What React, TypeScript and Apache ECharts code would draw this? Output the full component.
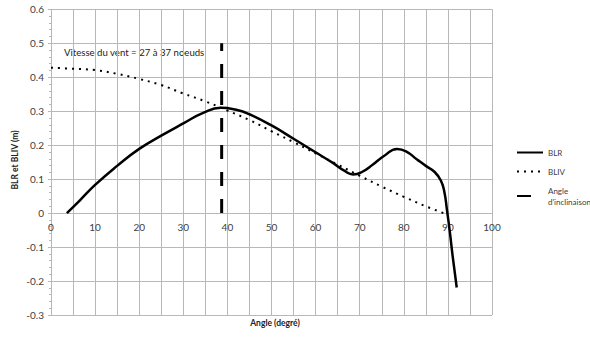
import React, { useEffect, useRef } from "react";
import * as echarts from "echarts";

const blrData: [number, number][] = [
  [3.6, 0], [6.5, 0.037], [10, 0.083], [15, 0.139],
  [20, 0.189], [25, 0.228], [30, 0.264], [34.5, 0.295],
  [38.5, 0.31], [42, 0.304], [45, 0.291], [50, 0.258], [55, 0.219],
  [60, 0.179], [64, 0.147], [66.5, 0.125], [68.5, 0.114], [70.5, 0.121],
  [73, 0.143], [75.5, 0.168], [78.5, 0.189], [80.5, 0.182], [83, 0.158],
  [85, 0.139], [87, 0.121], [88.4, 0.096], [89.2, 0.062], [89.8, 0.008],
  [90.4, -0.051], [91.1, -0.129], [92, -0.219],
];

const bliv: [number, number][] = [
  [0, 0.428], [5, 0.425], [10, 0.421], [15, 0.41], [20, 0.395], [25, 0.377],
  [30, 0.352], [35, 0.329], [40, 0.302], [45, 0.274], [50, 0.241], [55, 0.209],
  [60, 0.176], [65, 0.143], [70, 0.11], [75, 0.078], [80, 0.048], [85, 0.02],
  [89, 0.0],
];

const angleLine: [number, number][] = [
  [38.7, 0], [38.7, 0.5],
];

const seriesNames = ["BLR", "BLIV", "Angle\nd'inclinaison"];
const annotation = "Vitesse du vent = 27 à 37 noeuds";
const xTitle = "Angle (degré)";
const yTitle = "BLR et BLIV (m)";

const FONT = "Lato, 'Noto Sans', sans-serif";
const GRID_COLOR = "#b8b8b8";

export default function App() {
  const ref = useRef<HTMLDivElement>(null);
  useEffect(() => {
    if (!ref.current) return;
    const chart = echarts.init(ref.current, null, { renderer: "svg" });
    const top = 9.3;
    const bottom = 22;
    const plotH = 337 - top - bottom;
    const yMin = -0.3;
    const yMax = 0.6;
    // shift the x axis up so that it sits on y = 0
    const zeroOffset = -plotH * ((0 - yMin) / (yMax - yMin));
    chart.setOption({
      animation: false,
      backgroundColor: "#ffffff",
      textStyle: { fontFamily: FONT },
      grid: { left: 51, right: 98, top, bottom, containLabel: false },
      xAxis: {
        type: "value",
        min: 0,
        max: 100,
        interval: 10,
        offset: zeroOffset,
        axisLine: { show: true, onZero: false, lineStyle: { color: GRID_COLOR } },
        axisTick: { show: false },
        axisLabel: { color: "#404040", fontSize: 10, margin: 9, fontFamily: FONT },
        splitLine: { show: true, lineStyle: { color: GRID_COLOR, width: 1 } },
        minorTick: { show: false, splitNumber: 2 },
        minorSplitLine: { show: true, lineStyle: { color: GRID_COLOR, width: 1 } },
      },
      yAxis: {
        type: "value",
        min: yMin,
        max: yMax,
        interval: 0.1,
        axisLine: { show: true, onZero: false, lineStyle: { color: GRID_COLOR } },
        axisTick: { show: true, length: 3, lineStyle: { color: GRID_COLOR } },
        minorTick: { show: true, splitNumber: 5, length: 2, lineStyle: { color: GRID_COLOR } },
        axisLabel: {
          color: "#404040",
          fontSize: 10,
          margin: 7,
          fontFamily: FONT,
          formatter: (v: number) => String(Math.round(v * 10) / 10),
        },
        splitLine: { show: true, lineStyle: { color: GRID_COLOR, width: 1 } },
      },
      legend: {
        orient: "vertical",
        left: 511,
        top: 142,
        itemWidth: 26,
        itemHeight: 10,
        itemGap: 8,
        itemStyle: { opacity: 0 },
        textStyle: { fontSize: 8, color: "#404040", fontFamily: FONT, lineHeight: 11 },
        data: seriesNames,
      },
      series: [
        {
          name: seriesNames[0],
          type: "line",
          data: blrData,
          smooth: 0.5,
          symbol: "none",
          lineStyle: { color: "#000000", width: 2.5 },
          itemStyle: { color: "#000000" },
          z: 3,
        },
        {
          name: seriesNames[1],
          type: "line",
          data: bliv,
          smooth: 0.4,
          symbol: "none",
          lineStyle: { color: "#000000", width: 2, type: [2, 5] },
          itemStyle: { color: "#000000" },
          z: 2,
        },
        {
          name: seriesNames[2],
          type: "line",
          data: angleLine,
          symbol: "none",
          lineStyle: { color: "#000000", width: 3, type: [14, 13] },
          itemStyle: { color: "#000000" },
          z: 2,
        },
      ],
      graphic: [
        {
          type: "text",
          left: 64,
          top: 47,
          style: { text: annotation, fontSize: 9.6, fill: "#222222", fontFamily: FONT },
        },
        {
          type: "text",
          x: 275,
          y: 323,
          style: {
            text: xTitle,
            fontSize: 8.5,
            fontWeight: "bold",
            fill: "#222222",
            fontFamily: FONT,
            align: "center",
            verticalAlign: "middle",
          },
        },
        {
          type: "text",
          x: 15,
          y: 160,
          rotation: Math.PI / 2,
          style: {
            text: yTitle,
            fontSize: 8.5,
            fontWeight: "bold",
            fill: "#222222",
            fontFamily: FONT,
            align: "center",
            verticalAlign: "middle",
          },
        },
      ],
    });
    return () => chart.dispose();
  }, []);
  return <div ref={ref} style={{ width: 590, height: 337, position: "absolute", left: 0, top: 0 }} />;
}
